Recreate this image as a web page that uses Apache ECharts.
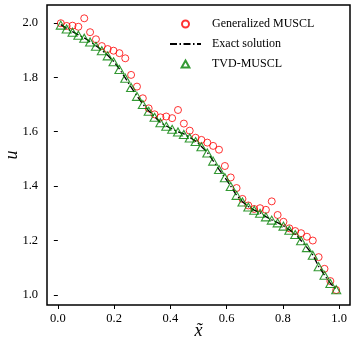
<!DOCTYPE html>
<html>
<head>
<meta charset="utf-8">
<script src="https://cdn.jsdelivr.net/npm/echarts@6/dist/echarts.min.js"></script>
<style>
html,body{margin:0;padding:0;background:#fff;}
#c{width:357px;height:350px;}
</style>
</head>
<body>
<div id="c"></div>
<script>
// cell centres (48 cells)
const xCells = [0.0104, 0.0313, 0.0521, 0.0729, 0.0938, 0.1146, 0.1354, 0.1563, 0.1771, 0.1979,
  0.2188, 0.2396, 0.2604, 0.2813, 0.3021, 0.3229, 0.3438, 0.3646, 0.3854, 0.4063,
  0.4271, 0.4479, 0.4688, 0.4896, 0.5104, 0.5313, 0.5521, 0.5729, 0.5938, 0.6146,
  0.6354, 0.6563, 0.6771, 0.6979, 0.7188, 0.7396, 0.7604, 0.7813, 0.8021, 0.8229,
  0.8438, 0.8646, 0.8854, 0.9063, 0.9271, 0.9479, 0.9688, 0.9896];

const generalizedMUSCL = [1.999, 1.989, 1.990, 1.986, 2.017, 1.966, 1.940, 1.915, 1.904, 1.898,
  1.889, 1.870, 1.809, 1.766, 1.723, 1.686, 1.664, 1.653, 1.656, 1.650,
  1.680, 1.630, 1.604, 1.578, 1.570, 1.560, 1.548, 1.534, 1.474, 1.432,
  1.393, 1.353, 1.329, 1.316, 1.319, 1.313, 1.344, 1.294, 1.269, 1.245,
  1.235, 1.227, 1.214, 1.200, 1.139, 1.096, 1.051, 1.018];

const exactSolution = [1.994, 1.980, 1.968, 1.956, 1.945, 1.932, 1.916, 1.900, 1.881, 1.859,
  1.831, 1.798, 1.764, 1.731, 1.701, 1.677, 1.655, 1.634, 1.621, 1.610,
  1.600, 1.592, 1.579, 1.566, 1.546, 1.524, 1.493, 1.462, 1.432, 1.400,
  1.366, 1.343, 1.325, 1.312, 1.302, 1.288, 1.276, 1.266, 1.254, 1.240,
  1.224, 1.200, 1.175, 1.147, 1.105, 1.073, 1.043, 1.020];

const tvdMUSCL = [1.992, 1.978, 1.966, 1.955, 1.944, 1.930, 1.914, 1.898, 1.879, 1.857,
  1.829, 1.797, 1.763, 1.730, 1.700, 1.675, 1.653, 1.633, 1.620, 1.609,
  1.599, 1.590, 1.577, 1.564, 1.545, 1.522, 1.492, 1.461, 1.431, 1.399,
  1.366, 1.342, 1.323, 1.311, 1.300, 1.287, 1.275, 1.265, 1.253, 1.238,
  1.222, 1.199, 1.174, 1.146, 1.104, 1.072, 1.042, 1.019];

const xTicks = [0.0, 0.2, 0.4, 0.6, 0.8, 1.0];
const yTicks = [1.0, 1.2, 1.4, 1.6, 1.8, 2.0];
const seriesNames = ['Generalized MUSCL', 'Exact solution', 'TVD-MUSCL'];

const pairs = (ys) => xCells.map((x, i) => [x, ys[i]]);
const FONT = '"Liberation Serif", "DejaVu Serif", serif';
const CLEAR = 'rgba(0,0,0,0)';

const chart = echarts.init(document.getElementById('c'), null, {renderer: 'canvas'});
chart.setOption({
  backgroundColor: '#ffffff',
  animation: false,
  grid: {left: 47, right: 7, top: 5, bottom: 45, outerBoundsMode: 'none', containLabel: false,
    show: true, borderColor: '#000', borderWidth: 1.5, backgroundColor: 'transparent'},
  xAxis: {
    type: 'value', min: -0.0386, max: 1.0386,
    name: 'x\u0303', nameLocation: 'middle', nameGap: 17, nameMoveOverlap: false,
    nameTextStyle: {fontFamily: FONT, fontStyle: 'italic', fontSize: 18, color: '#000'},
    axisLine: {show: false},
    axisTick: {show: true, length: 4, lineStyle: {color: '#000', width: 1}, customValues: xTicks},
    axisLabel: {customValues: xTicks, margin: 7, fontFamily: FONT, fontSize: 12.5, color: '#000',
      formatter: (v) => v.toFixed(1)},
    splitLine: {show: false}
  },
  yAxis: {
    type: 'value', min: 0.963, max: 2.066,
    name: 'u', nameLocation: 'middle', nameGap: 26, nameMoveOverlap: false,
    nameTextStyle: {fontFamily: FONT, fontStyle: 'italic', fontSize: 18, color: '#000'},
    axisLine: {show: false},
    axisTick: {show: true, length: 4, lineStyle: {color: '#000', width: 1}, customValues: yTicks},
    axisLabel: {customValues: yTicks, margin: 9, fontFamily: FONT, fontSize: 12.5, color: '#000',
      formatter: (v) => v.toFixed(1)},
    splitLine: {show: false}
  },
  legend: {
    orient: 'vertical', left: 164, top: 13, padding: 5, itemWidth: 31, itemHeight: 7, itemGap: 8,
    textStyle: {fontFamily: FONT, fontSize: 12, color: '#000', padding: [0, 0, 0, 6]},
    data: [
      {name: seriesNames[0], icon: 'circle'},
      {name: seriesNames[1]},
      {name: seriesNames[2], icon: 'path://M5,0 L10,9 L0,9 Z'}
    ]
  },
  series: [
    {
      name: seriesNames[0], type: 'scatter', data: pairs(generalizedMUSCL),
      symbol: 'circle', symbolSize: 7,
      itemStyle: {color: CLEAR, borderColor: '#ff0000', borderWidth: 1}, z: 2
    },
    {
      name: seriesNames[1], type: 'line', data: pairs(exactSolution),
      symbol: 'none', showSymbol: false,
      lineStyle: {color: '#000', width: 1.3, type: [7, 2.5, 1.5, 2.5]},
      itemStyle: {color: CLEAR, borderColor: CLEAR}, z: 3
    },
    {
      name: seriesNames[2], type: 'scatter', data: pairs(tvdMUSCL),
      symbol: 'triangle', symbolSize: [9, 8],
      itemStyle: {color: CLEAR, borderColor: '#008000', borderWidth: 1.1}, z: 4
    }
  ]
});
</script>
</body>
</html>
